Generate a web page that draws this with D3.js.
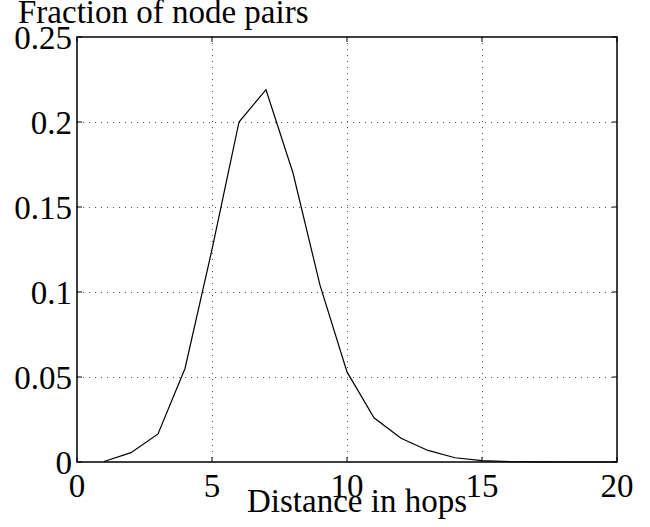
<!DOCTYPE html>
<html lang="en">
<head>
<meta charset="utf-8">
<title>Fraction of node pairs</title>
<script src="https://d3js.org/d3.v7.min.js"></script>
<style>
body { margin: 0; background: #fff; }
text { font-family: "Liberation Serif", "Times New Roman", serif; font-size: 33px; fill: #000; }
.grid line { stroke: #555; stroke-width: 1px; stroke-dasharray: 1,5; }
</style>
</head>
<body>
<div id="chart"></div>
<script>
// hop distance vs fraction of node pairs
var hops = [1, 2, 3, 4, 5, 6, 7, 8, 9, 10, 11, 12, 13, 14, 15, 16, 17, 18, 19, 20];
var fraction = [0.0003, 0.0055, 0.0165, 0.055, 0.125, 0.200, 0.219, 0.170, 0.104, 0.053,
                0.026, 0.014, 0.0068, 0.0025, 0.0008, 0.0002, 0.00005, 0, 0, 0];
var xTicks = [0, 5, 10, 15, 20];
var yTicks = [0, 0.05, 0.1, 0.15, 0.2, 0.25];
var yTickLabels = ["0", "0.05", "0.1", "0.15", "0.2", "0.25"];

var width = 650, height = 527;
var plotLeft = 77, plotRight = 617, plotTop = 37, plotBottom = 462;

var svg = d3.select("#chart").append("svg")
    .attr("width", width)
    .attr("height", height);

var x = d3.scaleLinear().domain([0, 20]).range([plotLeft, plotRight]);
var y = d3.scaleLinear().domain([0, 0.25]).range([plotBottom, plotTop]);

// dotted grid
var grid = svg.append("g").attr("class", "grid");
grid.selectAll(".gx")
    .data(xTicks.slice(1, -1))
    .enter().append("line")
    .attr("x1", function(d) { return x(d) + 0.5; })
    .attr("x2", function(d) { return x(d) + 0.5; })
    .attr("y1", plotTop)
    .attr("y2", plotBottom);
grid.selectAll(".gy")
    .data(yTicks.slice(1, -1))
    .enter().append("line")
    .attr("y1", function(d) { return y(d) + 0.5; })
    .attr("y2", function(d) { return y(d) + 0.5; })
    .attr("x1", plotLeft)
    .attr("x2", plotRight);

// inward ticks on all four sides
var tickLen = 5;
var ticks = svg.append("g").attr("stroke", "#000").attr("stroke-width", 1);
xTicks.forEach(function(d) {
  ticks.append("line").attr("x1", x(d)).attr("x2", x(d)).attr("y1", plotBottom).attr("y2", plotBottom - tickLen);
  ticks.append("line").attr("x1", x(d)).attr("x2", x(d)).attr("y1", plotTop).attr("y2", plotTop + tickLen);
});
yTicks.forEach(function(d) {
  ticks.append("line").attr("y1", y(d)).attr("y2", y(d)).attr("x1", plotLeft).attr("x2", plotLeft + tickLen);
  ticks.append("line").attr("y1", y(d)).attr("y2", y(d)).attr("x1", plotRight).attr("x2", plotRight - tickLen);
});

// frame
svg.append("rect")
    .attr("x", plotLeft)
    .attr("y", plotTop)
    .attr("width", plotRight - plotLeft)
    .attr("height", plotBottom - plotTop)
    .attr("fill", "none")
    .attr("stroke", "#000")
    .attr("stroke-width", 1.5);

// data line
var line = d3.line()
    .x(function(d, i) { return x(hops[i]); })
    .y(function(d) { return y(d); });

svg.append("path")
    .datum(fraction)
    .attr("d", line)
    .attr("fill", "none")
    .attr("stroke", "#000")
    .attr("stroke-width", 1.2);

// tick labels
svg.selectAll(".xl")
    .data(xTicks)
    .enter().append("text")
    .attr("x", function(d) { return x(d); })
    .attr("y", 497)
    .attr("text-anchor", "middle")
    .text(function(d) { return d; });

svg.selectAll(".yl")
    .data(yTicks)
    .enter().append("text")
    .attr("x", 72)
    .attr("y", function(d) { return y(d) + 12; })
    .attr("text-anchor", "end")
    .text(function(d, i) { return yTickLabels[i]; });

// axis titles
svg.append("text")
    .attr("x", 18)
    .attr("y", 23)
    .text("Fraction of node pairs");

svg.append("text")
    .attr("x", 357)
    .attr("y", 512)
    .attr("text-anchor", "middle")
    .text("Distance in hops");
</script>
</body>
</html>
